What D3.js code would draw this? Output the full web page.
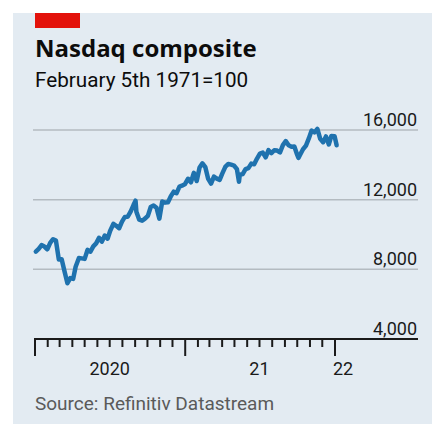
<!DOCTYPE html>
<html>
<head>
<meta charset="utf-8">
<script src="https://cdn.jsdelivr.net/npm/d3@7"></script>
<style>
  body { margin: 0; background: #fff; }
  svg text { font-family: Roboto, "Open Sans", sans-serif; }
</style>
</head>
<body>
<svg id="chart" width="432" height="426"></svg>
<script>
// weekly closes
const dates = [
  "2020-01-03","2020-01-10","2020-01-17","2020-01-24","2020-01-31","2020-02-07","2020-02-14","2020-02-21",
  "2020-02-28","2020-03-06","2020-03-13","2020-03-20","2020-03-27","2020-04-03","2020-04-09","2020-04-17",
  "2020-04-24","2020-05-01","2020-05-08","2020-05-15","2020-05-22","2020-05-29","2020-06-05","2020-06-12",
  "2020-06-19","2020-06-26","2020-07-02","2020-07-10","2020-07-17","2020-07-24","2020-07-31","2020-08-07",
  "2020-08-14","2020-08-21","2020-08-28","2020-09-02","2020-09-04","2020-09-11","2020-09-18","2020-09-25",
  "2020-10-02","2020-10-09","2020-10-16","2020-10-23","2020-10-30","2020-11-06","2020-11-13","2020-11-20",
  "2020-11-27","2020-12-04","2020-12-11","2020-12-18","2020-12-24","2020-12-31",
  "2021-01-08","2021-01-15","2021-01-22","2021-01-29","2021-02-05","2021-02-12","2021-02-19","2021-02-26",
  "2021-03-05","2021-03-12","2021-03-19","2021-03-26","2021-04-01","2021-04-09","2021-04-16","2021-04-23",
  "2021-04-30","2021-05-07","2021-05-12","2021-05-14","2021-05-21","2021-05-28","2021-06-04","2021-06-11",
  "2021-06-18","2021-06-25","2021-07-02","2021-07-09","2021-07-16","2021-07-23","2021-07-30","2021-08-06",
  "2021-08-13","2021-08-20","2021-08-27","2021-09-03","2021-09-10","2021-09-17","2021-09-24","2021-10-01",
  "2021-10-04","2021-10-08","2021-10-15","2021-10-22","2021-10-29","2021-11-05","2021-11-12","2021-11-19",
  "2021-11-26","2021-12-03","2021-12-10","2021-12-17","2021-12-23","2021-12-31","2022-01-05"
];
const values = [
  9020, 9180, 9390, 9310, 9150, 9520, 9730, 9650,
  8570, 8580, 7880, 7200, 7500, 7450, 8150, 8650,
  8630, 8600, 9120, 9010, 9320, 9490, 9810, 9590,
  9940, 9760, 10200, 10610, 10500, 10360, 10740, 11010,
  11020, 11310, 11690, 11940, 11310, 10850, 10790, 10910,
  11070, 11580, 11670, 11540, 10910, 11890, 11830, 11850,
  12200, 12460, 12370, 12750, 12800, 12880,
  13200, 13000, 13540, 13070, 13850, 14090, 13870, 13190,
  12920, 13320, 13210, 13140, 13480, 13900, 14050, 14010,
  13960, 13750, 13030, 13430, 13470, 13750, 13810, 14070,
  14030, 14360, 14640, 14700, 14430, 14840, 14670, 14840,
  14820, 14710, 15130, 15360, 15120, 15040, 15050, 14570,
  14400, 14580, 14900, 15090, 15500, 15970, 15860, 16060,
  15490, 15300, 15630, 15170, 15650, 15640, 15120
];
const yTicks = [4000, 8000, 12000, 16000];
const yearLabels = ["2020", "21", "22"];

const title = "Nasdaq composite";
const subtitle = "February 5th 1971=100";
const source = "Source: Refinitiv Datastream";

const parse = d3.timeParse("%Y-%m-%d");
const data = dates.map((d, i) => ({ date: parse(d), value: values[i] }));

const svg = d3.select("#chart");

svg.append("rect")
  .attr("x", 13).attr("y", 13)
  .attr("width", 419).attr("height", 411)
  .attr("fill", "#e3ebf2");

svg.append("rect")
  .attr("x", 35).attr("y", 13)
  .attr("width", 45).attr("height", 15)
  .attr("fill", "#e3120b");

svg.append("text")
  .attr("x", 35).attr("y", 57)
  .attr("font-size", 24).attr("font-weight", "bold")
  .style("font-family", "'Open Sans', sans-serif")
  .attr("fill", "#0c0c0c")
  .text(title);

svg.append("text")
  .attr("x", 35).attr("y", 87)
  .attr("font-size", 20.7)
  .attr("fill", "#0c0c0c")
  .text(subtitle);

const x = d3.scaleTime()
  .domain([new Date(2020, 0, 1), new Date(2022, 0, 1)])
  .range([35, 335]);

const y = d3.scaleLinear()
  .domain([4000, 16000])
  .range([339, 130]);

// gridlines + labels
const grid = svg.append("g");
grid.selectAll("line")
  .data(yTicks.filter(d => d > 4000))
  .join("line")
  .attr("x1", 33).attr("x2", 418)
  .attr("y1", d => y(d)).attr("y2", d => y(d))
  .attr("stroke", "#b4bbc1").attr("stroke-width", 1.5);

grid.selectAll("text")
  .data(yTicks)
  .join("text")
  .attr("x", 417).attr("y", d => y(d) - 4)
  .attr("text-anchor", "end")
  .attr("font-size", 18)
  .attr("fill", "#1a1a1a")
  .text(d3.format(","));

// line
svg.append("path")
  .datum(data)
  .attr("fill", "none")
  .attr("stroke", "#1f72ae")
  .attr("stroke-width", 4.5)
  .attr("stroke-linejoin", "round")
  .attr("stroke-linecap", "round")
  .attr("d", d3.line().x(d => x(d.date)).y(d => y(d.value)));

// x axis
const months = d3.timeMonth.range(new Date(2020, 0, 1), new Date(2022, 0, 2));
const axis = svg.append("g");
axis.append("line")
  .attr("x1", 34).attr("x2", 418)
  .attr("y1", y(4000)).attr("y2", y(4000))
  .attr("stroke", "#1a1a1a").attr("stroke-width", 2);

axis.selectAll("line.tick")
  .data(months)
  .join("line")
  .attr("class", "tick")
  .attr("x1", d => x(d)).attr("x2", d => x(d))
  .attr("y1", y(4000))
  .attr("y2", d => y(4000) + (d.getMonth() === 0 ? 17 : 8))
  .attr("stroke", "#1a1a1a").attr("stroke-width", 2);

const labelPos = [
  { t: yearLabels[0], x: x(new Date(2020, 6, 1)), anchor: "middle" },
  { t: yearLabels[1], x: x(new Date(2021, 6, 1)), anchor: "middle" },
  { t: yearLabels[2], x: x(new Date(2022, 0, 1)) - 2, anchor: "start" }
];
axis.selectAll("text")
  .data(labelPos)
  .join("text")
  .attr("x", d => d.x).attr("y", 375)
  .attr("text-anchor", d => d.anchor)
  .attr("font-size", 18)
  .attr("fill", "#1a1a1a")
  .text(d => d.t);

svg.append("text")
  .attr("x", 35).attr("y", 410)
  .attr("font-size", 19)
  .attr("fill", "#5a5a5a")
  .text(source);
</script>
</body>
</html>
